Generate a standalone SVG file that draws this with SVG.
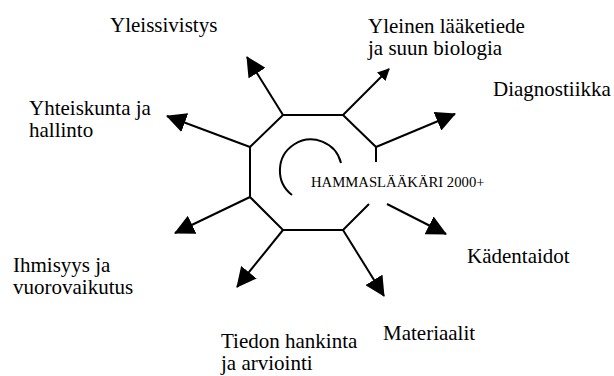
<svg xmlns="http://www.w3.org/2000/svg" width="614" height="376" viewBox="0 0 614 376">
<style>
  text { font-family: "Liberation Serif", "Times New Roman", serif; fill: #000; }
  .lbl { font-size: 21px; }
  .ctr { font-size: 14.7px; }
  .ln { fill: none; stroke: #000; stroke-width: 2; }
</style>
<defs>
  <marker id="ah" markerUnits="userSpaceOnUse" markerWidth="20" markerHeight="20" refX="19" refY="10" orient="auto">
    <path d="M0,0 L20,10 L0,20 z" fill="#000"/>
  </marker>
  <marker id="ahs" markerUnits="userSpaceOnUse" markerWidth="12" markerHeight="12" refX="11" refY="6" orient="auto">
    <path d="M0,0 L12,6 L0,12 z" fill="#000"/>
  </marker>
</defs>
<rect width="614" height="376" fill="#fff"/>
<g id="center">
  <path class="ln" d="M376,162 L376,147 L343,115 L283,115 L250,147 L250,197 L283,230 L343,230 L369,204"/>
  <path class="ln" d="M341,163 A31,31 0 1 0 292,195"/>
  <text class="ctr" x="311" y="187">HAMMASLÄÄKÄRI 2000+</text>
</g>
<g id="connectors">
  <line class="ln" x1="283" y1="115" x2="247" y2="57" marker-end="url(#ah)"/>
  <line class="ln" x1="343" y1="115" x2="389" y2="69" marker-end="url(#ahs)"/>
  <line class="ln" x1="376" y1="147" x2="455" y2="114" marker-end="url(#ah)"/>
  <line class="ln" x1="250" y1="147" x2="167" y2="116" marker-end="url(#ah)"/>
  <line class="ln" x1="250" y1="197" x2="175" y2="233" marker-end="url(#ah)"/>
  <line class="ln" x1="283" y1="230" x2="237" y2="287" marker-end="url(#ah)"/>
  <line class="ln" x1="343" y1="230" x2="384" y2="296" marker-end="url(#ah)"/>
  <line class="ln" x1="387" y1="204" x2="446" y2="234" marker-end="url(#ah)"/>
</g>
<g id="labels">
<g id="yleissivistys"><text class="lbl" x="110" y="32">Yleissivistys</text></g>
<g id="yleinen"><text class="lbl" x="368" y="33">Yleinen lääketiede</text><text class="lbl" x="368" y="55">ja suun biologia</text></g>
<g id="diagnostiikka"><text class="lbl" x="493" y="96">Diagnostiikka</text></g>
<g id="yhteiskunta"><text class="lbl" x="29" y="115">Yhteiskunta ja</text><text class="lbl" x="29" y="137">hallinto</text></g>
<g id="ihmisyys"><text class="lbl" x="13" y="272">Ihmisyys ja</text><text class="lbl" x="13" y="294">vuorovaikutus</text></g>
<g id="kadentaidot"><text class="lbl" x="467" y="263">Kädentaidot</text></g>
<g id="tiedon"><text class="lbl" x="221" y="348">Tiedon hankinta</text><text class="lbl" x="221" y="370">ja arviointi</text></g>
<g id="materiaalit"><text class="lbl" x="383" y="340">Materiaalit</text></g>
</g>
</svg>
